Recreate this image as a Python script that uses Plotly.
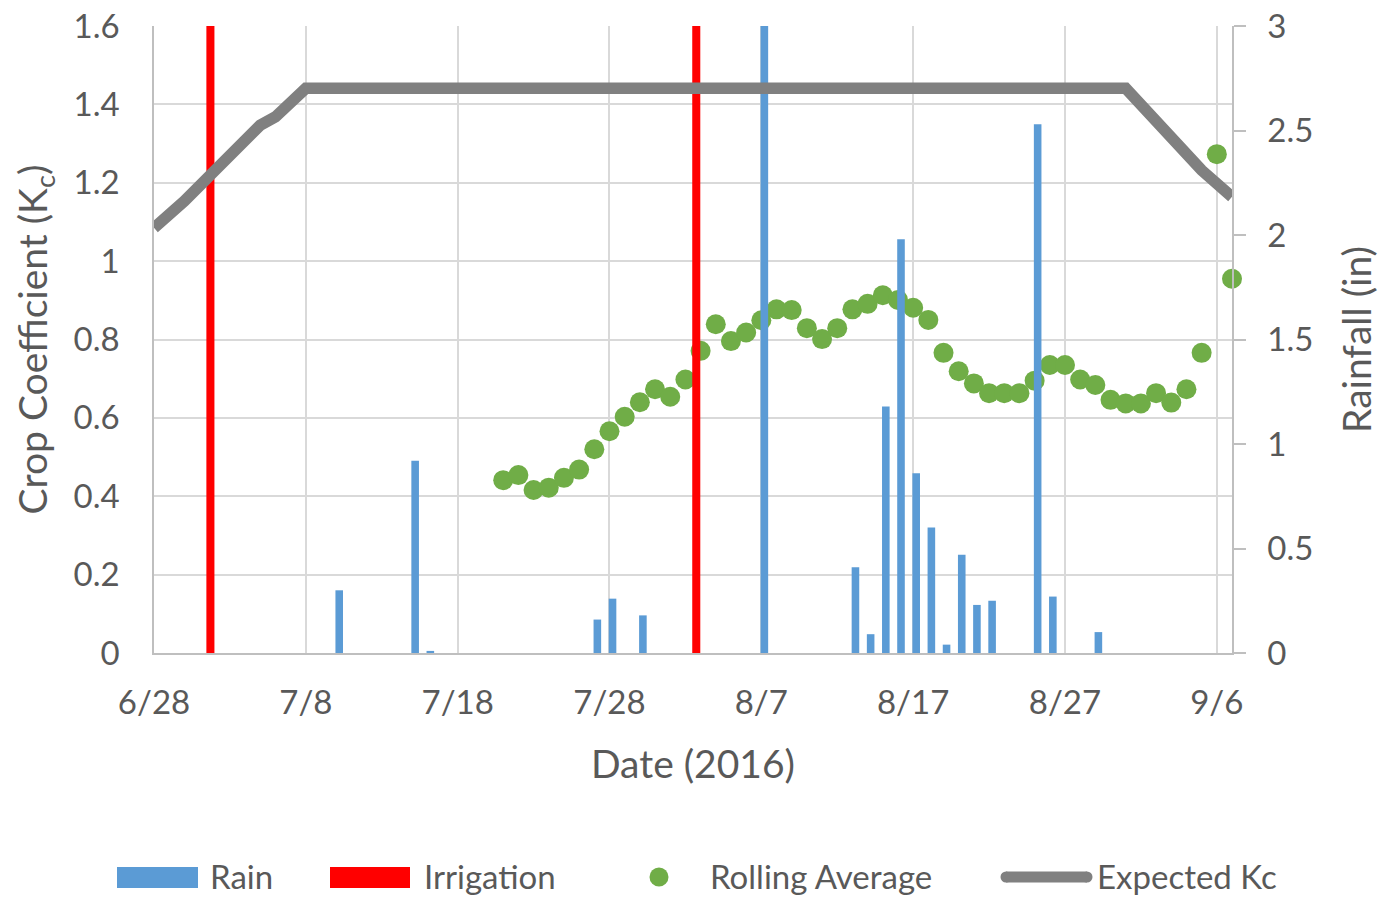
import plotly.graph_objects as go

# ---- data ---------------------------------------------------------------
rain_dates = ["2016-07-10", "2016-07-15", "2016-07-16", "2016-07-27", "2016-07-28",
              "2016-07-30", "2016-08-07", "2016-08-13", "2016-08-14", "2016-08-15",
              "2016-08-16", "2016-08-17", "2016-08-18", "2016-08-19", "2016-08-20",
              "2016-08-21", "2016-08-22", "2016-08-25", "2016-08-26", "2016-08-29"]
rain_in = [0.30, 0.92, 0.01, 0.16, 0.26,
           0.18, 3.20, 0.41, 0.09, 1.18,
           1.98, 0.86, 0.60, 0.04, 0.47,
           0.23, 0.25, 2.53, 0.27, 0.10]

irrigation_dates = ["2016-07-02", "2016-08-03"]
irrigation_in = [3.5, 3.5]

avg_dates = ["2016-07-21", "2016-07-22", "2016-07-23", "2016-07-24", "2016-07-25",
             "2016-07-26", "2016-07-27", "2016-07-28", "2016-07-29", "2016-07-30",
             "2016-07-31", "2016-08-01", "2016-08-02", "2016-08-03", "2016-08-04",
             "2016-08-05", "2016-08-06", "2016-08-07", "2016-08-08", "2016-08-09",
             "2016-08-10", "2016-08-11", "2016-08-12", "2016-08-13", "2016-08-14",
             "2016-08-15", "2016-08-16", "2016-08-17", "2016-08-18", "2016-08-19",
             "2016-08-20", "2016-08-21", "2016-08-22", "2016-08-23", "2016-08-24",
             "2016-08-25", "2016-08-26", "2016-08-27", "2016-08-28", "2016-08-29",
             "2016-08-30", "2016-08-31", "2016-09-01", "2016-09-02", "2016-09-03",
             "2016-09-04", "2016-09-05", "2016-09-06", "2016-09-07"]
avg_kc = [0.441, 0.454, 0.416, 0.422, 0.447,
          0.468, 0.520, 0.566, 0.603, 0.640,
          0.673, 0.654, 0.698, 0.771, 0.839,
          0.796, 0.818, 0.849, 0.877, 0.875,
          0.829, 0.801, 0.829, 0.877, 0.891,
          0.913, 0.901, 0.881, 0.850, 0.766,
          0.719, 0.688, 0.663, 0.663, 0.663,
          0.695, 0.735, 0.735, 0.698, 0.684,
          0.646, 0.637, 0.637, 0.663, 0.639,
          0.673, 0.766, 1.273, 0.955]

kc_dates = ["2016-06-28", "2016-06-30", "2016-07-05", "2016-07-06", "2016-07-08",
            "2016-08-31", "2016-09-05", "2016-09-07"]
kc_expected = [1.085, 1.153, 1.347, 1.368, 1.441, 1.441, 1.232, 1.164]

x_ticks = ["2016-06-28", "2016-07-08", "2016-07-18", "2016-07-28",
           "2016-08-07", "2016-08-17", "2016-08-27", "2016-09-06"]

# ---- styling ------------------------------------------------------------
BLUE = "#5b9bd5"
RED = "#ff0000"
GREEN = "#70ad47"
GREY_LINE = "#808080"
TEXT = "#595959"
GRID = "#d9d9d9"
AXIS = "#bfbfbf"
FONT = "Lato"
DAY_MS = 86400000

W, H = 1384, 897
L, R, T, B = 154, 152, 26, 244
PW, PH = W - L - R, H - T - B


def px(x):
    return (x - L) / PW


def py(y):
    return (H - B - y) / PH


fig = go.Figure()

# rolling average dots (bottom layer)
fig.add_trace(go.Scatter(
    x=avg_dates, y=avg_kc, mode="markers", name="Rolling Average",
    marker=dict(color=GREEN, size=20, line=dict(width=0)),
    yaxis="y", cliponaxis=False))

# rainfall and irrigation bars on the right-hand axis
fig.add_trace(go.Bar(
    x=rain_dates, y=rain_in, name="Rain", marker=dict(color=BLUE, line=dict(width=0)),
    width=0.5 * DAY_MS, offset=-0.05 * DAY_MS, yaxis="y2"))
fig.add_trace(go.Bar(
    x=irrigation_dates, y=irrigation_in, name="Irrigation",
    marker=dict(color=RED, line=dict(width=0)),
    width=0.53 * DAY_MS, offset=-0.55 * DAY_MS, yaxis="y2"))

# expected crop coefficient on top
fig.add_trace(go.Scatter(
    x=kc_dates, y=kc_expected, mode="lines", name="Expected Kc",
    line=dict(color=GREY_LINE, width=11.5), yaxis="y3"))

fig.update_layout(
    width=W, height=H,
    margin=dict(l=L, r=R, t=T, b=B, pad=0, autoexpand=False),
    paper_bgcolor="white", plot_bgcolor="white",
    showlegend=False, barmode="overlay",
    font=dict(family=FONT, color=TEXT, size=32),
    xaxis=dict(
        type="date", range=["2016-06-28", "2016-09-07"], automargin=False,
        tickvals=x_ticks, tickformat="%-m/%-d",
        showgrid=True, gridcolor=GRID, gridwidth=1.5,
        showline=True, linecolor=AXIS, linewidth=1.5,
        ticks="", ticklabelstandoff=20,
        tickfont=dict(size=33, color=TEXT, family=FONT),
        title=dict(text="Date (2016)", standoff=30,
                   font=dict(size=39, color=TEXT, family=FONT)),
        zeroline=False),
    yaxis=dict(
        range=[0, 1.6], dtick=0.2, tick0=0, automargin=False,
        showgrid=True, gridcolor=GRID, gridwidth=1.5,
        showline=True, linecolor=AXIS, linewidth=1.5,
        ticks="", ticklabelstandoff=26, zeroline=False,
        tickfont=dict(size=33, color=TEXT, family=FONT),
        title=dict(text="Crop Coefficient (K<sub>c</sub>)", standoff=14,
                   font=dict(size=39, color=TEXT, family=FONT))),
    yaxis2=dict(
        range=[0, 3], dtick=0.5, tick0=0, overlaying="y", side="right",
        automargin=False,
        showgrid=False, showline=True, linecolor=AXIS, linewidth=1.5,
        ticks="outside", ticklen=12, tickcolor=AXIS, tickwidth=1.5,
        ticklabelstandoff=15, zeroline=False,
        tickfont=dict(size=33, color=TEXT, family=FONT),
        title=dict(text="Rainfall (in)", standoff=31,
                   font=dict(size=39, color=TEXT, family=FONT))),
    yaxis3=dict(range=[0, 1.6], overlaying="y", visible=False),
)

# ---- legend along the bottom ------------------------------------------------
leg_y = 877
shapes = [
    dict(type="rect", xref="paper", yref="paper",
         x0=px(117), x1=px(198), y0=py(888), y1=py(867),
         fillcolor=BLUE, line=dict(width=0)),
    dict(type="rect", xref="paper", yref="paper",
         x0=px(330), x1=px(410), y0=py(888), y1=py(867),
         fillcolor=RED, line=dict(width=0)),
    dict(type="circle", xref="paper", yref="paper",
         x0=px(659 - 9.5), x1=px(659 + 9.5), y0=py(leg_y + 9.5), y1=py(leg_y - 9.5),
         fillcolor=GREEN, line=dict(width=0)),
    dict(type="line", xref="paper", yref="paper",
         x0=px(1006), x1=px(1087), y0=py(leg_y), y1=py(leg_y),
         line=dict(color=GREY_LINE, width=11)),
]
for cx in (1006, 1087):
    shapes.append(dict(type="circle", xref="paper", yref="paper",
                       x0=px(cx - 5.5), x1=px(cx + 5.5),
                       y0=py(leg_y + 5.5), y1=py(leg_y - 5.5),
                       fillcolor=GREY_LINE, line=dict(width=0)))

labels = [("Rain", 209), ("Irrigation", 423), ("Rolling Average", 709), ("Expected Kc", 1096)]
annotations = [
    dict(text=t, x=px(x0), y=py(leg_y - 1), xref="paper", yref="paper",
         xanchor="left", yanchor="middle", showarrow=False, borderpad=0,
         font=dict(size=33, color=TEXT, family=FONT))
    for t, x0 in labels
]

fig.update_layout(shapes=shapes, annotations=annotations)

fig.write_html("out.html")
